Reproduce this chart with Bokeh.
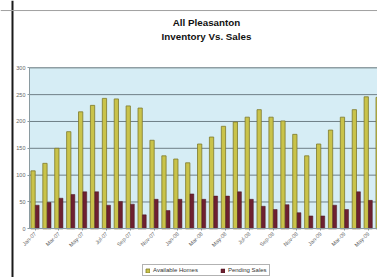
import math
from bokeh.plotting import figure
from bokeh.models import (ColumnDataSource, Range1d, FixedTicker, Legend, LinearAxis,
                          BoxAnnotation, Label, Span)
from bokeh.transform import dodge
from bokeh.embed import file_html
from bokeh.resources import INLINE

# ---- data ----
months = ["Jan-07", "Feb-07", "Mar-07", "Apr-07", "May-07", "Jun-07", "Jul-07", "Aug-07",
          "Sep-07", "Oct-07", "Nov-07", "Dec-07", "Jan-08", "Feb-08", "Mar-08", "Apr-08",
          "May-08", "Jun-08", "Jul-08", "Aug-08", "Sep-08", "Oct-08", "Nov-08", "Dec-08",
          "Jan-09", "Feb-09", "Mar-09", "Apr-09", "May-09", "Jun-09"]
available = [108, 122, 150, 181, 218, 230, 243, 242, 229, 225, 165, 136, 130, 123, 158,
             171, 191, 199, 208, 222, 208, 201, 176, 136, 158, 184, 208, 222, 246, 245]
# last month's pending bar is cut off by the picture's edge (not visible)
pending = [44, 49, 57, 64, 69, 69, 44, 51, 46, 26, 55, 34, 55, 65, 55,
           61, 61, 69, 55, 42, 36, 45, 30, 24, 24, 44, 36, 69, 53, float("nan")]
y_ticks = [0, 50, 100, 150, 200, 250, 300]
series_names = ["Available Homes", "Pending Sales"]
title_lines = ["All Pleasanton", "Inventory Vs. Sales"]

FONT = "Liberation Sans"
n = len(months)

# ---- layout geometry (data units of the frame, which fills the whole figure) ----
X0, X1 = -2.916, 28.765          # full frame
PLOT_L = -0.479                  # left edge of the blue plot area
Y0, Y1 = -90.7, 425.4            # full frame
YMAX = y_ticks[-1]

src = ColumnDataSource(dict(x=list(range(n)), available=available, pending=pending))

p = figure(width=377, height=277, output_backend="svg", toolbar_location=None,
           x_range=Range1d(X0, X1), y_range=Range1d(Y0, Y1),
           x_axis_location=None, y_axis_location=None,
           min_border=0, min_border_left=0, min_border_right=0,
           min_border_top=0, min_border_bottom=0,
           background_fill_color="white", border_fill_color="white")
p.outline_line_color = None
p.xgrid.visible = False
p.ygrid.visible = False

# chart frame decoration (outer border of the embedded chart)
p.add_layout(Span(location=-1.908, dimension="height", line_color="#1a1a1a", line_width=2))
p.add_layout(Span(location=406.7, dimension="width", line_color="#a0a0a0", line_width=1))

# blue plot area
p.add_layout(BoxAnnotation(left=PLOT_L, right=X1, bottom=0, top=YMAX,
                           fill_color="#d6edf5", fill_alpha=1.0,
                           line_color="#8a9aa0", line_width=1, level="underlay"))

# horizontal grid lines at the y ticks
p.segment(x0=PLOT_L, x1=X1, y0=y_ticks[1:], y1=y_ticks[1:],
          line_color="#6f7f86", line_width=1)

r1 = p.vbar(x=dodge("x", -0.18, range=p.x_range), top="available", width=0.36, source=src,
            fill_color="#c9c34a", line_color="#7d7a2c", line_width=0.8)
r2 = p.vbar(x=dodge("x", 0.17, range=p.x_range), top="pending", width=0.32, source=src,
            fill_color="#6e2130", line_color="#4a1520", line_width=0.5)

xaxis = LinearAxis(fixed_location=0, bounds=(PLOT_L, X1),
                   ticker=FixedTicker(ticks=list(range(0, n, 2))),
                   major_label_overrides={i: months[i] for i in range(0, n, 2)},
                   major_label_orientation=math.pi / 4)
yaxis = LinearAxis(fixed_location=PLOT_L, bounds=(0, YMAX),
                   ticker=FixedTicker(ticks=y_ticks))
for ax in (xaxis, yaxis):
    ax.major_label_text_font = FONT
    ax.major_label_text_font_size = "5.5px"
    ax.major_label_text_color = "#666666"
    ax.axis_line_color = "#8a9aa0"
    ax.major_tick_line_color = "#8a9aa0"
    ax.major_tick_out = 2
    ax.major_tick_in = 0
    ax.minor_tick_line_color = None
    ax.major_label_standoff = 2
p.add_layout(xaxis, "below")
p.add_layout(yaxis, "left")

# two-line title
for txt, yv in zip(title_lines, (385.3, 359.2)):
    p.add_layout(Label(x=14.395, y=yv, text=txt, text_align="center", text_baseline="middle",
                       text_font=FONT, text_font_size="9.8px", text_font_style="bold",
                       text_color="#111111"))

legend = Legend(items=[(series_names[0], [r1]), (series_names[1], [r2])],
                orientation="horizontal", location=(142, 1),
                label_text_font=FONT, label_text_font_size="6px", label_text_color="#333333",
                glyph_width=5, glyph_height=5, label_height=6, label_standoff=3, spacing=22,
                padding=2, margin=0, border_line_color="#666666", border_line_width=1,
                background_fill_color="white")
p.add_layout(legend, "center")

open("out.html", "w").write(file_html(p, INLINE))
